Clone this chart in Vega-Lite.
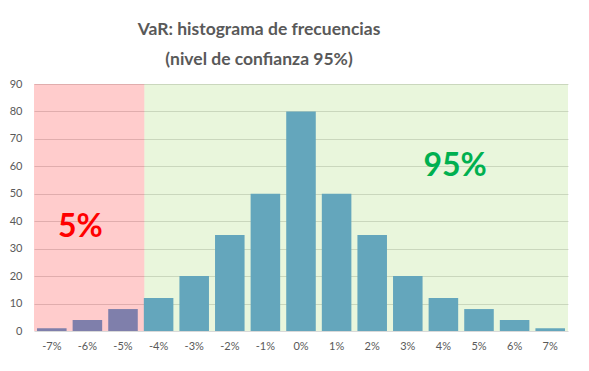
{
  "$schema": "https://vega.github.io/schema/vega-lite/v6.json",
  "width": 534,
  "height": 247,
  "autosize": {"type": "none"},
  "padding": {"left": 34, "top": 84, "right": 21, "bottom": 40},
  "background": "white",
  "config": {
    "font": "Lato",
    "view": {"stroke": null},
    "axisY": {"title": null, "values": [0, 10, 20, 30, 40, 50, 60, 70, 80, 90], "tickCount": 9, "grid": true, "labelOverlap": false, "domain": false, "ticks": false, "gridColor": "#D9D9D9", "gridWidth": 1, "labelFontSize": 11, "labelColor": "#595959", "labelPadding": 12, "labelFont": "Lato"}
  },
  "title": {
    "text": ["VaR: histograma de frecuencias", "(nivel de confianza 95%)"],
    "fontSize": 17.5,
    "fontWeight": "bold",
    "color": "#595959",
    "font": "Lato",
    "anchor": "middle",
    "dx": -42,
    "offset": 10,
    "lineHeight": 30
  },
  "datasets": {
    "bins": [
      {"ret": "-7%", "freq": 1, "zone": "cola"},
      {"ret": "-6%", "freq": 4, "zone": "cola"},
      {"ret": "-5%", "freq": 8, "zone": "cola"},
      {"ret": "-4%", "freq": 12, "zone": "resto"},
      {"ret": "-3%", "freq": 20, "zone": "resto"},
      {"ret": "-2%", "freq": 35, "zone": "resto"},
      {"ret": "-1%", "freq": 50, "zone": "resto"},
      {"ret": "0%", "freq": 80, "zone": "resto"},
      {"ret": "1%", "freq": 50, "zone": "resto"},
      {"ret": "2%", "freq": 35, "zone": "resto"},
      {"ret": "3%", "freq": 20, "zone": "resto"},
      {"ret": "4%", "freq": 12, "zone": "resto"},
      {"ret": "5%", "freq": 8, "zone": "resto"},
      {"ret": "6%", "freq": 4, "zone": "resto"},
      {"ret": "7%", "freq": 1, "zone": "resto"}
    ],
    "zones": [
      {"start": 0, "end": 3.1, "zone": "cola"},
      {"start": 3.1, "end": 15, "zone": "resto"}
    ],
    "labels": [
      {"pos": 1.3, "val": 38, "label": "5%", "zone": "cola"},
      {"pos": 11.83, "val": 60, "label": "95%", "zone": "resto"}
    ]
  },
  "layer": [
    {
      "data": {"name": "zones"},
      "mark": {"type": "rect", "opacity": 0.2},
      "encoding": {
        "x": {"field": "start", "type": "quantitative", "scale": {"domain": [0, 15], "nice": false, "zero": false}, "axis": null},
        "x2": {"field": "end"},
        "y": {"datum": 0, "type": "quantitative", "scale": {"domain": [0, 90], "nice": false}},
        "y2": {"datum": 90},
        "color": {"field": "zone", "type": "nominal", "scale": {"domain": ["cola", "resto"], "range": ["#FF0000", "#92D050"]}, "legend": null}
      }
    },
    {
      "data": {"name": "bins"},
      "mark": {"type": "bar"},
      "encoding": {
        "x": {
          "field": "ret", "type": "ordinal", "sort": null,
          "scale": {"paddingInner": 0.17, "paddingOuter": 0.085},
          "axis": {"title": null, "labelAngle": 0, "domain": false, "ticks": false, "labelFontSize": 11, "labelColor": "#595959", "labelPadding": 9, "labelFont": "Lato"}
        },
        "y": {"field": "freq", "type": "quantitative"},
        "color": {"field": "zone", "type": "nominal", "scale": {"domain": ["cola", "resto"], "range": ["#7F7FAB", "#64A6BC"]}, "legend": null}
      }
    },
    {
      "data": {"name": "labels"},
      "mark": {"type": "text", "fontSize": 32, "fontWeight": "bold", "font": "Lato", "align": "center", "baseline": "middle"},
      "encoding": {
        "x": {"field": "pos", "type": "quantitative", "scale": {"domain": [0, 15], "nice": false, "zero": false}, "axis": null},
        "y": {"field": "val", "type": "quantitative"},
        "text": {"field": "label"},
        "color": {"field": "zone", "type": "nominal", "scale": {"domain": ["cola", "resto"], "range": ["#FF0000", "#00B050"]}, "legend": null}
      }
    }
  ],
  "resolve": {"scale": {"x": "independent", "color": "independent"}}
}
